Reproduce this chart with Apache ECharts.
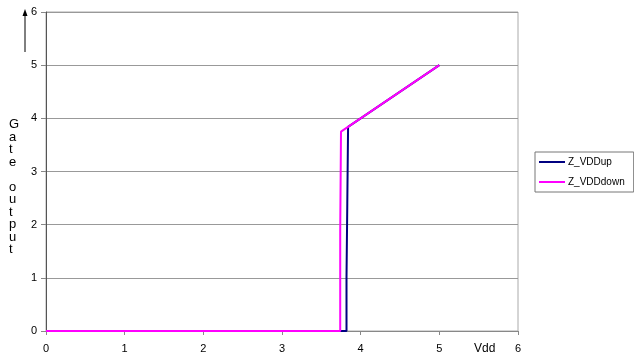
<!DOCTYPE html>
<html><head><meta charset="utf-8">
<script src="https://cdn.jsdelivr.net/npm/echarts@6/dist/echarts.min.js"></script>
<style>html,body{margin:0;padding:0;background:#fff}#c{width:634px;height:358px}</style>
</head><body><div id="c"></div>
<script>
const seriesNames = ['Z_VDDup', 'Z_VDDdown'];
const vddUp = [[0,0],[3.82,0],[3.82,1.0],[3.825,1.0],[3.83,2.4],[3.84,2.4],[3.84,3.84],[5,5]];
const vddDown = [[0,0],[3.74,0],[3.74,1.87],[3.75,1.87],[3.75,3.75],[5,5]];
const xTicks = [0,1,2,3,4,5,6];
const yTicks = [0,1,2,3,4,5,6];

const chart = echarts.init(document.getElementById('c'));
const font = 'Liberation Sans, Arial, sans-serif';
chart.setOption({
  animation: false,
  backgroundColor: '#fff',
  grid: { left: 46, right: 116, top: 12, bottom: 27, show: true, borderColor: '#aaa', borderWidth: 1, backgroundColor: 'transparent' },
  xAxis: {
    type: 'value', min: 0, max: 6, interval: 1,
    axisLine: { show: true, onZero: false, lineStyle: { color: '#888', width: 1 } },
    axisTick: { show: true, length: 4, inside: false, lineStyle: { color: '#888' } },
    axisLabel: { color: '#000', fontFamily: font, fontSize: 11, margin: 12,
      formatter: v => xTicks.includes(v) ? String(v) : '' },
    splitLine: { show: false }
  },
  yAxis: {
    type: 'value', min: 0, max: 6, interval: 1,
    axisLine: { show: true, onZero: false, lineStyle: { color: '#555', width: 1 } },
    axisTick: { show: true, length: 5, lineStyle: { color: '#888' } },
    axisLabel: { color: '#000', fontFamily: font, fontSize: 11, margin: 9,
      formatter: v => yTicks.includes(v) ? String(v) : '' },
    splitLine: { show: true, lineStyle: { color: '#999', width: 1 } }
  },
  legend: {
    orient: 'vertical', left: 535, top: 152, data: seriesNames,
    icon: 'rect', itemWidth: 26, itemHeight: 2, itemGap: 7,
    padding: [3.5, 9, 3.5, 4],
    borderColor: '#777', borderWidth: 1,
    textStyle: { fontFamily: font, fontSize: 10, color: '#000', lineHeight: 13, padding: [0, 0, 0, -2] }
  },
  series: [
    { name: seriesNames[0], type: 'line', data: vddUp, symbol: 'none', color: '#000080',
      lineStyle: { color: '#000080', width: 2 }, z: 2 },
    { name: seriesNames[1], type: 'line', data: vddDown, symbol: 'none', color: '#ff00ff',
      lineStyle: { color: '#ff00ff', width: 2 }, z: 3 }
  ],
  graphic: [
    { type: 'text', left: 474, top: 343, style: { text: 'Vdd', font: '12px ' + font, fill: '#000' } },
    { type: 'text', left: 9, top: 118, style: { text: 'G\na\nt\ne\n\no\nu\nt\np\nu\nt', font: '13px ' + font, fill: '#000', lineHeight: 12.5, align: 'center' } },
    { type: 'line', shape: { x1: 25, y1: 52, x2: 25, y2: 14 }, style: { stroke: '#000', lineWidth: 1 } },
    { type: 'polygon', shape: { points: [[25, 9], [22.5, 16], [27.5, 16]] }, style: { fill: '#000' } }
  ]
});
</script></body></html>
